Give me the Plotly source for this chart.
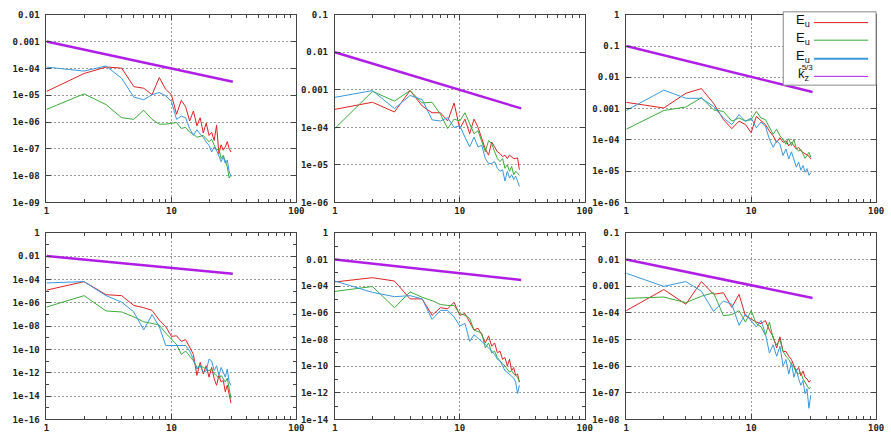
import math
import plotly.graph_objects as go

# wavenumber samples
k = list(range(1, 31))
kz_ends = [1, 31]

# log10 of spectra, one list per panel / component
p1_red = [-4.86,-4.19,-3.95,-3.99,-4.68,-4.74,-4.98,-4.34,-4.78,-4.98,-5.71,-5.19,-5.43,-5.96,-5.59,-6.14,-5.84,-6.41,-6.04,-6.5,-6.38,-6.69,-6.12,-7.18,-6.85,-7.05,-6.93,-6.73,-6.99,-7.12]
p1_green = [-5.53,-4.95,-5.35,-5.84,-5.9,-5.56,-5.9,-6.08,-6.08,-6.04,-6.02,-6.24,-6.2,-6.38,-6.45,-6.57,-6.53,-6.5,-6.63,-6.73,-6.65,-6.87,-7.05,-6.99,-7.36,-7.24,-7.48,-7.66,-8.09,-7.97]
p1_blue = [-3.95,-4.1,-3.91,-4.37,-5.07,-5.17,-4.98,-4.9,-5.02,-5.23,-5.9,-5.78,-5.84,-6.24,-6.5,-6.29,-6.45,-6.57,-6.75,-6.87,-7.12,-6.93,-7.05,-7.24,-7.48,-7.3,-7.54,-7.42,-7.85,-8.03]

p2_red = [-3.52,-3.33,-3.59,-3.02,-3.43,-3.61,-3.61,-3.83,-3.35,-4.04,-3.78,-4.17,-3.78,-4.0,-4.3,-4.57,-4.74,-4.39,-4.52,-4.65,-4.7,-4.78,-4.74,-4.83,-4.74,-4.78,-4.83,-4.83,-4.81,-5.13]
p2_green = [-4.03,-3.04,-3.3,-3.02,-3.35,-3.33,-3.65,-4.03,-3.78,-3.83,-3.61,-3.91,-4.17,-4.09,-4.39,-4.65,-4.35,-4.43,-4.65,-4.83,-4.91,-4.83,-5.09,-5.0,-5.17,-5.04,-5.26,-5.17,-5.22,-5.28]
p2_blue = [-3.2,-3.02,-3.5,-3.15,-3.26,-3.8,-3.83,-3.74,-4.0,-3.96,-4.26,-4.52,-4.26,-4.52,-4.48,-4.83,-4.96,-4.96,-4.91,-5.09,-5.17,-5.13,-5.43,-5.17,-5.35,-5.26,-5.39,-5.3,-5.43,-5.57]

p3_red = [-2.8,-2.98,-2.51,-2.36,-2.83,-3.35,-3.64,-3.4,-3.51,-3.77,-3.25,-3.4,-3.51,-3.72,-3.87,-4.08,-3.93,-4.08,-4.03,-4.19,-4.08,-4.19,-4.29,-4.24,-4.35,-4.4,-4.45,-4.48,-4.52,-4.61]
p3_green = [-3.66,-3.06,-2.95,-2.65,-3.04,-3.09,-3.4,-3.3,-3.4,-3.35,-3.09,-3.3,-3.35,-3.61,-3.82,-3.66,-3.87,-3.98,-4.14,-3.96,-4.19,-3.98,-4.29,-4.35,-4.31,-4.45,-4.59,-4.5,-4.4,-4.55]
p3_blue = [-3.06,-2.41,-2.67,-2.67,-2.93,-3.3,-3.51,-3.19,-3.4,-3.3,-3.61,-3.43,-3.56,-3.98,-4.24,-4.03,-4.14,-4.5,-4.29,-4.61,-4.38,-4.66,-4.87,-4.71,-4.97,-4.82,-5.03,-4.92,-5.13,-5.05]

p4_red = [-4.92,-4.19,-5.31,-5.39,-6.23,-6.42,-6.65,-7.49,-8.04,-8.88,-8.83,-9.3,-9.16,-9.86,-10.42,-12.23,-11.12,-12.09,-11.4,-12.37,-11.54,-12.51,-13.07,-12.23,-12.79,-12.65,-13.63,-13.07,-13.91,-14.61]
p4_green = [-6.37,-5.39,-6.7,-6.79,-7.21,-7.63,-7.77,-7.91,-8.6,-9.16,-9.58,-10.42,-10.14,-10.56,-10.98,-11.54,-11.4,-11.54,-11.68,-11.82,-11.68,-12.09,-12.23,-12.51,-12.23,-12.51,-12.79,-12.46,-13.21,-14.19]
p4_blue = [-4.3,-4.19,-5.39,-5.95,-6.79,-8.32,-7.01,-8.04,-9.66,-9.66,-9.66,-9.72,-9.66,-10.14,-10.84,-11.68,-11.4,-11.96,-11.82,-10.84,-10.98,-11.82,-11.4,-12.23,-11.54,-11.96,-12.37,-11.68,-12.79,-13.07]

p5_red = [-3.69,-3.37,-3.62,-4.96,-4.96,-6.19,-5.62,-5.7,-5.21,-6.19,-6.06,-6.67,-7.29,-7.16,-7.65,-8.26,-7.73,-8.51,-8.26,-9.0,-8.88,-9.49,-9.36,-9.98,-9.49,-10.34,-10.1,-10.71,-10.59,-11.2]
p5_green = [-4.4,-4.03,-5.62,-4.43,-4.84,-5.09,-5.38,-5.45,-5.45,-6.06,-6.19,-6.43,-7.29,-7.41,-7.53,-8.63,-8.26,-9.0,-8.88,-9.36,-9.61,-9.85,-9.98,-10.22,-10.46,-10.34,-10.59,-10.71,-10.83,-11.2]
p5_blue = [-3.62,-4.47,-4.79,-4.72,-4.96,-6.5,-5.82,-5.82,-6.31,-6.99,-6.8,-8.14,-7.65,-7.9,-8.14,-8.39,-8.63,-8.88,-9.12,-9.49,-9.61,-9.98,-10.34,-10.46,-10.59,-10.71,-10.9,-11.2,-12.05,-11.44]

p6_red = [-3.92,-3.13,-3.68,-2.83,-3.31,-3.25,-3.8,-3.31,-4.11,-4.23,-4.35,-4.41,-4.29,-4.65,-4.9,-5.32,-4.9,-5.45,-5.45,-5.63,-5.75,-5.99,-6.18,-6.05,-6.36,-6.18,-6.42,-6.48,-6.6,-6.54]
p6_green = [-3.46,-3.41,-3.62,-3.38,-3.25,-4.11,-4.07,-3.92,-4.35,-3.92,-4.41,-4.53,-4.84,-4.35,-4.96,-5.2,-5.02,-5.45,-5.63,-5.75,-5.93,-6.05,-6.24,-6.3,-6.24,-6.48,-6.6,-6.72,-6.85,-6.79]
p6_blue = [-2.52,-3.01,-2.83,-3.19,-3.95,-3.56,-3.68,-4.47,-4.05,-4.29,-4.53,-4.29,-4.78,-5.51,-5.2,-5.63,-5.26,-5.99,-5.75,-6.3,-5.87,-6.42,-6.12,-6.48,-6.72,-6.54,-7.03,-6.85,-7.58,-7.09]

# k^-5/3 reference line end values per panel
ref1 = [1e-3, 3.2e-5]
ref2 = [1e-2, 3.2e-4]
ref3 = [1e-1, 3.4e-3]
ref4 = [1e-2, 3.0e-4]
ref5 = [1e-2, 2.9e-4]
ref6 = [1e-2, 3.6e-4]

# y tick labels per panel
yt1 = ["0.01", "0.001", "1e-04", "1e-05", "1e-06", "1e-07", "1e-08", "1e-09"]
yt2 = ["0.1", "0.01", "0.001", "1e-04", "1e-05", "1e-06"]
yt3 = ["1", "0.1", "0.01", "0.001", "1e-04", "1e-05", "1e-06"]
yt4 = ["1", "0.01", "1e-04", "1e-06", "1e-08", "1e-10", "1e-12", "1e-14", "1e-16"]
yt5 = ["1", "0.01", "1e-04", "1e-06", "1e-08", "1e-10", "1e-12", "1e-14"]
yt6 = ["0.1", "0.01", "0.001", "1e-04", "1e-05", "1e-06", "1e-07", "1e-08"]
xt = ["1", "10", "100"]
key_labels = ["E<sub>u</sub>", "E<sub>u</sub>", "E<sub>u</sub>", "k<sub>z</sub>"]
key_power = "-5/3"

panels = [
    (p1_red, p1_green, p1_blue, ref1, yt1),
    (p2_red, p2_green, p2_blue, ref2, yt2),
    (p3_red, p3_green, p3_blue, ref3, yt3),
    (p4_red, p4_green, p4_blue, ref4, yt4),
    (p5_red, p5_green, p5_blue, ref5, yt5),
    (p6_red, p6_green, p6_blue, ref6, yt6),
]

RED = "#dc2323"
GREEN = "#3caa3c"
BLUE = "#3a98dc"
MAG = "#b01ee6"
AXC = "#444444"

W, H = 891, 444
col_px = [(44, 297), (336, 589), (631, 884)]
row_px = [(10, 202), (233, 424)]

def fx(p):
    return p / W

def fy(p):
    return 1 - p / H

fig = go.Figure()
layout = dict(width=W, height=H, margin=dict(l=0, r=0, t=0, b=0),
              paper_bgcolor="white", plot_bgcolor="white", showlegend=False)

tickfont = dict(family="DejaVu Sans Mono", size=9, color="#222", weight="bold")
x_minor = [2, 3, 4, 5, 6, 7, 8, 9, 20, 30, 40, 50, 60, 70, 80, 90]

for i, (r, g, b, ref, yt) in enumerate(panels):
    row, col = divmod(i, 3)
    xa = "x" if i == 0 else f"x{i+1}"
    ya = "y" if i == 0 else f"y{i+1}"
    for vals, colr in ((r, RED), (g, GREEN), (b, BLUE)):
        fig.add_trace(go.Scatter(x=k, y=[10 ** v for v in vals], mode="lines",
                                 line=dict(color=colr, width=1), xaxis=xa, yaxis=ya,
                                 hoverinfo="skip"))
    fig.add_trace(go.Scatter(x=kz_ends, y=ref, mode="lines",
                             line=dict(color=MAG, width=2.5), xaxis=xa, yaxis=ya,
                             hoverinfo="skip"))
    yv = [float(s) for s in yt]
    top = math.log10(yv[0]); bot = math.log10(yv[-1])
    step = yv[0] / yv[1]
    ymin = []
    if step > 10:
        e = top
        while e > bot:
            ymin.append(10 ** (e - 1))
            e -= 2
    x0, x1 = col_px[col]
    t0, t1 = row_px[row]
    xkey = "xaxis" if i == 0 else f"xaxis{i+1}"
    ykey = "yaxis" if i == 0 else f"yaxis{i+1}"
    layout[xkey] = dict(type="log", range=[0, 2], domain=[fx(x0), fx(x1)], anchor=ya,
                        showline=True, linecolor=AXC, linewidth=1, mirror="allticks",
                        ticks="inside", ticklen=5, tickcolor=AXC,
                        tickmode="array", tickvals=[1, 10, 100], ticktext=xt,
                        showgrid=True, gridcolor="#9a9a9a", griddash="2px,2px", gridwidth=1,
                        zeroline=False, tickfont=tickfont,
                        minor=dict(tickmode="array", tickvals=x_minor, ticks="inside",
                                   ticklen=3, tickcolor=AXC, showgrid=False))
    ydict = dict(type="log", range=[bot, top], domain=[fy(t1), fy(t0)], anchor=xa,
                 showline=True, linecolor=AXC, linewidth=1, mirror="allticks",
                 ticks="inside", ticklen=5, tickcolor=AXC,
                 tickmode="array", tickvals=yv, ticktext=yt,
                 showgrid=True, gridcolor="#9a9a9a", griddash="2px,2px", gridwidth=1,
                 zeroline=False, tickfont=tickfont, ticklabelstandoff=4)
    if ymin:
        ydict["minor"] = dict(tickmode="array", tickvals=ymin, ticks="inside",
                              ticklen=3, tickcolor=AXC, showgrid=False)
    layout[ykey] = ydict

fig.update_layout(**layout)

# gnuplot-style key in the third panel (text left, sample right)
shapes = [dict(type="rect", xref="paper", yref="paper", x0=fx(790), x1=fx(884),
               y0=fy(82), y1=fy(7), line=dict(color="#888", width=1), fillcolor="white",
               layer="above")]
key_rows = [(18, RED, 1), (36, GREEN, 1), (55, BLUE, 2), (73, MAG, 1)]
for yy, colr, wdt in key_rows:
    shapes.append(dict(type="line", xref="paper", yref="paper", x0=fx(821), x1=fx(876),
                       y0=fy(yy), y1=fy(yy), line=dict(color=colr, width=wdt), layer="above"))
fig.update_layout(shapes=shapes)

keyfont = dict(family="Liberation Sans, Arial, sans-serif", size=13, color="#111")
annots = []
for (yy, _, _), lab in zip(key_rows, key_labels):
    annots.append(dict(xref="paper", yref="paper", x=fx(819), y=fy(yy - 2), xanchor="right",
                       yanchor="middle", text=lab, showarrow=False, font=keyfont))
annots.append(dict(xref="paper", yref="paper", x=fx(822), y=fy(64), xanchor="right",
                   yanchor="middle", text=key_power, showarrow=False,
                   font=dict(family="Liberation Sans, Arial, sans-serif", size=8, color="#111")))
fig.update_layout(annotations=annots)

fig.write_html("out.html", config={"displayModeBar": False},
               post_script="document.body.style.margin='0';")
